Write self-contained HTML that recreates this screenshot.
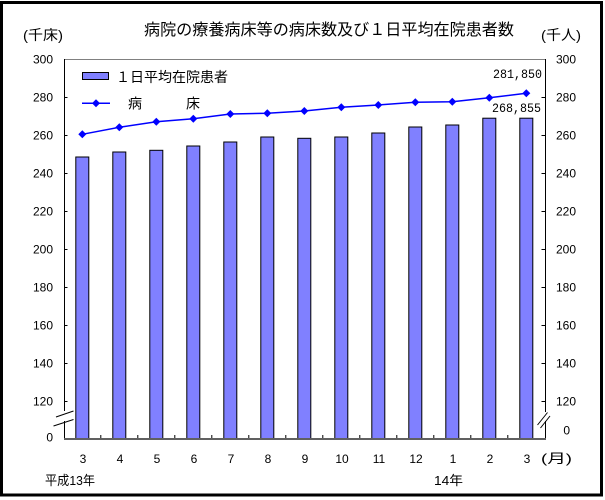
<!DOCTYPE html>
<html>
<head>
<meta charset="utf-8">
<style>
  html,body{margin:0;padding:0;background:#fff;}
  svg{display:block;}
  text{font-family:"Liberation Sans","Noto Sans CJK JP",sans-serif;fill:#000;}
  .mono{font-family:"Liberation Mono","Noto Sans CJK JP",monospace;}
</style>
</head>
<body>
<svg width="605" height="500" viewBox="0 0 605 500" xmlns="http://www.w3.org/2000/svg">
  <rect x="0" y="0" width="605" height="500" fill="#fff"/>
  <!-- outer frame -->
  <rect x="1.5" y="2.5" width="600" height="492.5" fill="none" stroke="#000" stroke-width="3"/>

  <!-- title & unit labels -->
  <text x="144" y="35" font-size="16" textLength="370" lengthAdjust="spacingAndGlyphs">病院の療養病床等の病床数及び１日平均在院患者数</text>
  <text x="23" y="40" font-size="14" textLength="40" lengthAdjust="spacingAndGlyphs">(千床)</text>
  <text x="541" y="40" font-size="14" textLength="40" lengthAdjust="spacingAndGlyphs">(千人)</text>

  <!-- plot area top border -->
  <line x1="64.5" y1="59.5" x2="545.5" y2="59.5" stroke="#808080" stroke-width="1"/>

  <!-- bars -->
  <g fill="#8080FF" stroke="#000" stroke-width="1">
    <rect x="75.8" y="157" width="13" height="282"/>
    <rect x="112.8" y="152" width="13" height="287"/>
    <rect x="149.8" y="150.3" width="13" height="288.7"/>
    <rect x="186.8" y="146" width="13" height="293"/>
    <rect x="223.8" y="142" width="13" height="297"/>
    <rect x="260.8" y="137" width="13" height="302"/>
    <rect x="297.8" y="138.3" width="13" height="300.7"/>
    <rect x="334.8" y="137" width="13" height="302"/>
    <rect x="371.8" y="133" width="13" height="306"/>
    <rect x="408.8" y="127" width="13" height="312"/>
    <rect x="445.8" y="125" width="13" height="314"/>
    <rect x="482.8" y="118.2" width="13" height="320.8"/>
    <rect x="519.8" y="118.2" width="13" height="320.8"/>
  </g>

  <!-- left axis with break -->
  <line x1="64.5" y1="59" x2="64.5" y2="411" stroke="#000" stroke-width="1"/>
  <line x1="64.5" y1="421" x2="64.5" y2="439" stroke="#000" stroke-width="1"/>
  <line x1="56" y1="417" x2="73.5" y2="411" stroke="#000" stroke-width="1"/>
  <line x1="53.5" y1="426" x2="73.5" y2="419.5" stroke="#000" stroke-width="1"/>
  <!-- right axis with break -->
  <line x1="545.5" y1="59" x2="545.5" y2="412" stroke="#000" stroke-width="1"/>
  <line x1="545.5" y1="421" x2="545.5" y2="439" stroke="#000" stroke-width="1"/>
  <line x1="537.5" y1="425" x2="547.5" y2="412.5" stroke="#000" stroke-width="1"/>
  <line x1="540.5" y1="428" x2="550" y2="416" stroke="#000" stroke-width="1"/>

  <!-- bottom axis -->
  <line x1="64" y1="439" x2="546" y2="439" stroke="#606060" stroke-width="2"/>
  <!-- bottom ticks -->
  <g stroke="#000" stroke-width="1">
    <line x1="100.8" y1="438" x2="100.8" y2="435"/>
    <line x1="137.8" y1="438" x2="137.8" y2="435"/>
    <line x1="174.8" y1="438" x2="174.8" y2="435"/>
    <line x1="211.8" y1="438" x2="211.8" y2="435"/>
    <line x1="248.8" y1="438" x2="248.8" y2="435"/>
    <line x1="285.8" y1="438" x2="285.8" y2="435"/>
    <line x1="322.8" y1="438" x2="322.8" y2="435"/>
    <line x1="359.8" y1="438" x2="359.8" y2="435"/>
    <line x1="396.8" y1="438" x2="396.8" y2="435"/>
    <line x1="433.8" y1="438" x2="433.8" y2="435"/>
    <line x1="470.8" y1="438" x2="470.8" y2="435"/>
    <line x1="507.8" y1="438" x2="507.8" y2="435"/>
  </g>

  <!-- left/right y ticks -->
  <g stroke="#000" stroke-width="1">
    <line x1="64.5" y1="97.5" x2="67.5" y2="97.5"/>
    <line x1="64.5" y1="135.5" x2="67.5" y2="135.5"/>
    <line x1="64.5" y1="173.5" x2="67.5" y2="173.5"/>
    <line x1="64.5" y1="211.5" x2="67.5" y2="211.5"/>
    <line x1="64.5" y1="249.5" x2="67.5" y2="249.5"/>
    <line x1="64.5" y1="287.5" x2="67.5" y2="287.5"/>
    <line x1="64.5" y1="325.5" x2="67.5" y2="325.5"/>
    <line x1="64.5" y1="363.5" x2="67.5" y2="363.5"/>
    <line x1="64.5" y1="401.5" x2="67.5" y2="401.5"/>
    <line x1="541.5" y1="97.5" x2="545.5" y2="97.5"/>
    <line x1="541.5" y1="135.5" x2="545.5" y2="135.5"/>
    <line x1="541.5" y1="173.5" x2="545.5" y2="173.5"/>
    <line x1="541.5" y1="211.5" x2="545.5" y2="211.5"/>
    <line x1="541.5" y1="249.5" x2="545.5" y2="249.5"/>
    <line x1="541.5" y1="287.5" x2="545.5" y2="287.5"/>
    <line x1="541.5" y1="325.5" x2="545.5" y2="325.5"/>
    <line x1="541.5" y1="363.5" x2="545.5" y2="363.5"/>
    <line x1="541.5" y1="401.5" x2="545.5" y2="401.5"/>
  </g>

  <!-- left tick labels -->
  <g font-size="12" text-anchor="end">
    <text x="53" y="63.5">300</text>
    <text x="53" y="101.5">280</text>
    <text x="53" y="139.5">260</text>
    <text x="53" y="177.5">240</text>
    <text x="53" y="215.5">220</text>
    <text x="53" y="253.5">200</text>
    <text x="53" y="291.5">180</text>
    <text x="53" y="329.5">160</text>
    <text x="53" y="367.5">140</text>
    <text x="53" y="405.5">120</text>
    <text x="53" y="441.5">0</text>
  </g>
  <!-- right tick labels -->
  <g font-size="12" text-anchor="end">
    <text x="576" y="63.5">300</text>
    <text x="576" y="101.5">280</text>
    <text x="576" y="139.5">260</text>
    <text x="576" y="177.5">240</text>
    <text x="576" y="215.5">220</text>
    <text x="576" y="253.5">200</text>
    <text x="576" y="291.5">180</text>
    <text x="576" y="329.5">160</text>
    <text x="576" y="367.5">140</text>
    <text x="576" y="405.5">120</text>
    <text x="570" y="434.5">0</text>
  </g>

  <!-- line series -->
  <polyline fill="none" stroke="#0000FF" stroke-width="1.5"
    points="82.3,134.3 119.3,127.3 156.3,121.7 193.3,118.7 230.3,114 267.3,113.3 304.3,111 341.3,107.3 378.3,105 415.3,102.3 452.3,101.7 489.3,97.7 526.3,93.3"/>
  <g fill="#0000FF">
    <polygon points="82.3,130.3 86.3,134.3 82.3,138.3 78.3,134.3"/>
    <polygon points="119.3,123.3 123.3,127.3 119.3,131.3 115.3,127.3"/>
    <polygon points="156.3,117.7 160.3,121.7 156.3,125.7 152.3,121.7"/>
    <polygon points="193.3,114.7 197.3,118.7 193.3,122.7 189.3,118.7"/>
    <polygon points="230.3,110 234.3,114 230.3,118 226.3,114"/>
    <polygon points="267.3,109.3 271.3,113.3 267.3,117.3 263.3,113.3"/>
    <polygon points="304.3,107 308.3,111 304.3,115 300.3,111"/>
    <polygon points="341.3,103.3 345.3,107.3 341.3,111.3 337.3,107.3"/>
    <polygon points="378.3,101 382.3,105 378.3,109 374.3,105"/>
    <polygon points="415.3,98.3 419.3,102.3 415.3,106.3 411.3,102.3"/>
    <polygon points="452.3,97.7 456.3,101.7 452.3,105.7 448.3,101.7"/>
    <polygon points="489.3,93.7 493.3,97.7 489.3,101.7 485.3,97.7"/>
    <polygon points="526.3,89.3 530.3,93.3 526.3,97.3 522.3,93.3"/>
  </g>

  <!-- value labels -->
  <text class="mono" x="493" y="78" font-size="13" textLength="49" lengthAdjust="spacingAndGlyphs">281,850</text>
  <text class="mono" x="492" y="112" font-size="13" textLength="49" lengthAdjust="spacingAndGlyphs">268,855</text>

  <!-- legend -->
  <rect x="82.5" y="72.5" width="26" height="7" fill="#8080FF" stroke="#000" stroke-width="1"/>
  <text x="116" y="82" font-size="14" textLength="112" lengthAdjust="spacingAndGlyphs">１日平均在院患者</text>
  <line x1="82" y1="103.3" x2="110" y2="103.3" stroke="#0000FF" stroke-width="1.5"/>
  <polygon points="96,99.3 100,103.3 96,107.3 92,103.3" fill="#0000FF"/>
  <text x="128" y="108.5" font-size="14">病</text>
  <text x="186" y="108.5" font-size="14">床</text>

  <!-- month labels -->
  <g font-size="12" text-anchor="middle">
    <text x="83" y="463">3</text>
    <text x="120" y="463">4</text>
    <text x="157" y="463">5</text>
    <text x="194" y="463">6</text>
    <text x="231" y="463">7</text>
    <text x="268" y="463">8</text>
    <text x="305" y="463">9</text>
    <text x="342" y="463">10</text>
    <text x="379" y="463">11</text>
    <text x="416" y="463">12</text>
    <text x="453" y="463">1</text>
    <text x="490" y="463">2</text>
    <text x="527" y="463">3</text>
  </g>
  <text x="541" y="463" font-size="13" textLength="31" lengthAdjust="spacingAndGlyphs">(月)</text>
  <text x="45" y="485" font-size="13" textLength="50" lengthAdjust="spacingAndGlyphs">平成13年</text>
  <text x="434" y="485" font-size="13" textLength="29" lengthAdjust="spacingAndGlyphs">14年</text>
</svg>
</body>
</html>
